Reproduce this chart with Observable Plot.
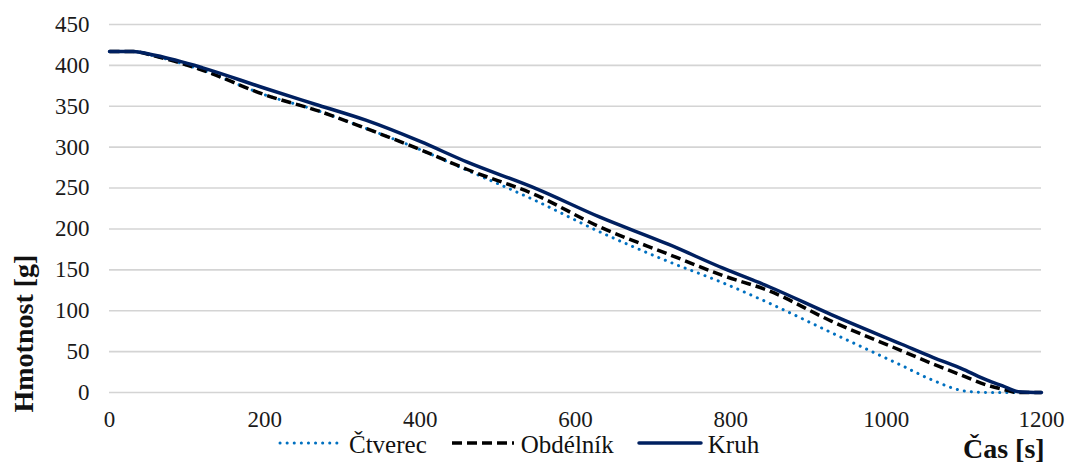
<!DOCTYPE html>
<html>
<head>
<meta charset="utf-8">
<script src="https://cdn.jsdelivr.net/npm/d3@7"></script>
<script src="https://cdn.jsdelivr.net/npm/@observablehq/plot@0.6"></script>
<style>
  html, body { margin: 0; padding: 0; background: #fff; }
  body { width: 1067px; height: 467px; overflow: hidden; font-family: "Liberation Serif", "Times New Roman", serif; }
  #chart svg { display: block; }
  #legend { position: relative; width: 1067px; height: 35px; }
  #legend .items { position: absolute; left: 278px; top: 0; display: flex; align-items: flex-start; }
  #legend .item { display: flex; align-items: flex-start; margin-right: 23px; }
  #legend .item svg { display: block; margin-right: 5px; }
  #legend .item span { font-size: 25px; line-height: 25px; color: #111; white-space: nowrap; }
  #legend .xtitle { position: absolute; left: 963px; top: 3px; font-size: 28px; line-height: 28px; font-weight: bold; color: #111; white-space: nowrap; }
</style>
</head>
<body>
<div id="chart"></div>
<div id="legend"></div>
<script>
// Sample times [s]
const casS = [0, 30, 60, 120, 200, 270, 330, 400, 460, 550, 630, 720, 790, 850, 930, 1020, 1060, 1100, 1130, 1150, 1170, 1200];
// Mass [g] of each sample shape
const ctverec  = [417, 417, 411, 394, 364, 344, 323, 297, 272, 234, 197, 160, 134, 109, 73, 33, 15, 2, 0, 0, 0, 0];
const obdelnik = [417, 417, 411, 394, 364, 344, 323, 297, 273, 241, 203, 169, 143, 124, 87, 51, 35, 20, 9, 4, 0, 0];
const kruh     = [417, 417, 412, 397, 372, 351, 333, 307, 282, 249, 215, 181, 152, 129, 95, 59, 43, 28, 15, 8, 1, 0];

const seriesNames = ["Čtverec", "Obdélník", "Kruh"];
const xTicks = [0, 200, 400, 600, 800, 1000, 1200];
const yTicks = [0, 50, 100, 150, 200, 250, 300, 350, 400, 450];
const xTitle = "Čas [s]";
const yTitle = "Hmotnost [g]";

const serif = '"Liberation Serif", "Times New Roman", serif';

const styles = {
  "Čtverec":  {stroke: "#0070C0", strokeWidth: 3, strokeDasharray: "0.1 7", strokeLinecap: "round"},
  "Obdélník": {stroke: "#000000", strokeWidth: 3.5, strokeDasharray: "10 5", strokeLinecap: "butt"},
  "Kruh":     {stroke: "#002060", strokeWidth: 3.5, strokeDasharray: null, strokeLinecap: "round"}
};

const values = {"Čtverec": ctverec, "Obdélník": obdelnik, "Kruh": kruh};
const rows = seriesNames.flatMap(name => casS.map((t, i) => ({serie: name, t, m: values[name][i]})));

const lineMarks = seriesNames.map(name => Plot.line(rows.filter(d => d.serie === name), {
  x: "t", y: "m", curve: "monotone-x",
  stroke: styles[name].stroke,
  strokeWidth: styles[name].strokeWidth,
  strokeDasharray: styles[name].strokeDasharray,
  strokeLinecap: styles[name].strokeLinecap,
  strokeLinejoin: "round"
}));

const chart = Plot.plot({
  width: 1067,
  height: 432,
  marginTop: 24,
  marginBottom: 40,
  marginLeft: 109,
  marginRight: 26,
  style: {fontFamily: serif, fontSize: "23px", color: "#1a1a1a", background: "#fff"},
  x: {domain: [0, 1200]},
  y: {domain: [0, 450]},
  marks: [
    Plot.gridY(yTicks, {stroke: "#d4d4d4", strokeOpacity: 1, strokeWidth: 1.6}),
    Plot.axisX(xTicks, {tickSize: 0, tickPadding: 18, tickFormat: d => String(d), label: null, fontFamily: serif}),
    Plot.axisY(yTicks, {tickSize: 0, tickPadding: 20, tickFormat: d => String(d), label: null, fontFamily: serif}),
    ...lineMarks,
    Plot.text([yTitle], {
      text: d => d, frameAnchor: "bottom-left", rotate: -90,
      textAnchor: "start", lineAnchor: "middle",
      dx: -85, dy: 20, fontSize: 28, fontWeight: "bold", fill: "#111", fontFamily: serif
    })
  ]
});
document.getElementById("chart").appendChild(chart);

// Legend row with the x-axis title on the right
const legend = d3.select("#legend");
const items = legend.append("div").attr("class", "items");
for (const name of seriesNames) {
  const s = styles[name];
  const item = items.append("div").attr("class", "item");
  const sw = item.append("svg").attr("width", 66).attr("height", 22);
  sw.append("line")
    .attr("x1", 2).attr("x2", 64).attr("y1", 11).attr("y2", 11)
    .attr("stroke", s.stroke)
    .attr("stroke-width", s.strokeWidth)
    .attr("stroke-dasharray", s.strokeDasharray)
    .attr("stroke-linecap", s.strokeLinecap);
  item.append("span").text(name);
}
legend.append("div").attr("class", "xtitle").text(xTitle);
</script>
</body>
</html>
